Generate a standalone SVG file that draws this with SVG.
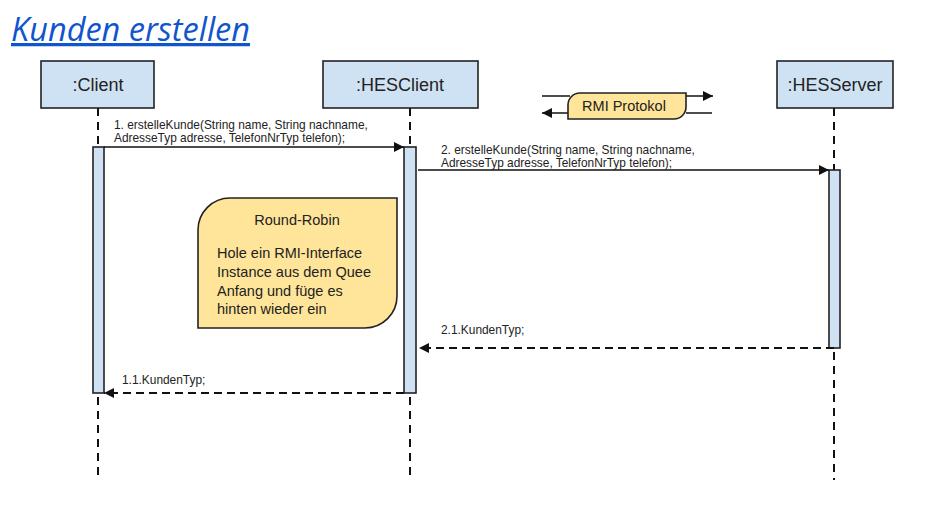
<svg xmlns="http://www.w3.org/2000/svg" width="952" height="526" viewBox="0 0 952 526">
<style>
.title{font-family:"Open Sans","Noto Sans",sans-serif;font-style:italic;font-size:32.5px;fill:#1155cc;text-decoration:underline}
.head{fill:#cfe2f3;stroke:#222;stroke-width:1.6}
.headtxt{font-family:"Liberation Sans",Arial,sans-serif;font-size:18px;fill:#222;text-anchor:middle}
.bar{fill:#cfe2f3;stroke:#222;stroke-width:1.6}
.life{stroke:#111;stroke-width:2;stroke-dasharray:8,6;fill:none}
.msg{stroke:#111;stroke-width:1.5;fill:none}
.ret{stroke:#111;stroke-width:2;stroke-dasharray:8,5;fill:none}
.lbl{font-family:"Liberation Sans",Arial,sans-serif;font-size:11.9px;fill:#222}
.note{fill:#ffe599;stroke:#222;stroke-width:1.6}
.notetxt{font-family:"Liberation Sans",Arial,sans-serif;font-size:14.5px;fill:#222}
</style>
<defs>
<marker id="ah" viewBox="0 0 10 10" refX="10" refY="5" markerWidth="10" markerHeight="10" markerUnits="userSpaceOnUse" orient="auto">
<path d="M0,0 L10,5 L0,10 z" fill="#111"/>
</marker>
</defs>

<text class="title" x="11" y="41">Kunden erstellen</text>

<g id="lifelines">
<line class="life" x1="98" y1="108" x2="98" y2="147"/>
<line class="life" x1="98" y1="397" x2="98" y2="480"/>
<line class="life" x1="410" y1="108" x2="410" y2="147"/>
<line class="life" x1="410" y1="397" x2="410" y2="480"/>
<line class="life" x1="834" y1="108" x2="834" y2="170"/>
<line class="life" x1="834" y1="352" x2="834" y2="480"/>
</g>

<g id="client">
<rect class="head" x="41" y="61" width="113" height="47"/>
<text class="headtxt" x="98" y="91">:Client</text>
<rect class="bar" x="93" y="147" width="11" height="246"/>
</g>

<g id="hesclient">
<rect class="head" x="323" y="61" width="155" height="47"/>
<text class="headtxt" x="400" y="91">:HESClient</text>
<rect class="bar" x="404" y="147" width="12" height="246"/>
</g>

<g id="hesserver">
<rect class="head" x="777" y="61" width="116" height="47"/>
<text class="headtxt" x="835" y="91">:HESServer</text>
<rect class="bar" x="829" y="170" width="11" height="178"/>
</g>

<g id="rmi">
<line class="msg" x1="542" y1="96" x2="570" y2="96"/>
<line class="msg" x1="686" y1="96" x2="713" y2="96" marker-end="url(#ah)"/>
<line class="msg" x1="686" y1="113" x2="712" y2="113"/>
<line class="msg" x1="570" y1="113" x2="542" y2="113" marker-end="url(#ah)"/>
<path class="note" d="M580,93 H686 V107 A12,12 0 0 1 674,119 H568 V105 A12,12 0 0 1 580,93 Z"/>
<text class="notetxt" x="624" y="111" text-anchor="middle">RMI Protokol</text>
</g>

<g id="roundrobin">
<path class="note" d="M230,198 H397 V296 A32,32 0 0 1 365,328 H198 V230 A32,32 0 0 1 230,198 Z"/>
<text class="notetxt" x="297" y="225" text-anchor="middle">Round-Robin</text>
<text class="notetxt" x="217" y="258">Hole ein RMI-Interface</text>
<text class="notetxt" x="217" y="277">Instance aus dem Quee</text>
<text class="notetxt" x="217" y="296">Anfang und füge es</text>
<text class="notetxt" x="217" y="314">hinten wieder ein</text>
</g>

<g id="connectors">
<line class="msg" x1="104" y1="147" x2="404" y2="147" marker-end="url(#ah)"/>
<text class="lbl" x="114" y="129">1. erstelleKunde(String name, String nachname,</text>
<text class="lbl" x="114" y="142">AdresseTyp adresse, TelefonNrTyp telefon);</text>
<line class="msg" x1="418" y1="170" x2="829" y2="170" marker-end="url(#ah)"/>
<text class="lbl" x="441" y="154">2. erstelleKunde(String name, String nachname,</text>
<text class="lbl" x="441" y="167">AdresseTyp adresse, TelefonNrTyp telefon);</text>
<line class="ret" x1="834" y1="348" x2="419" y2="348" marker-end="url(#ah)"/>
<text class="lbl" x="441" y="334">2.1.KundenTyp;</text>
<line class="ret" x1="404" y1="393" x2="104" y2="393" marker-end="url(#ah)"/>
<text class="lbl" x="122" y="384">1.1.KundenTyp;</text>
</g>
</svg>
